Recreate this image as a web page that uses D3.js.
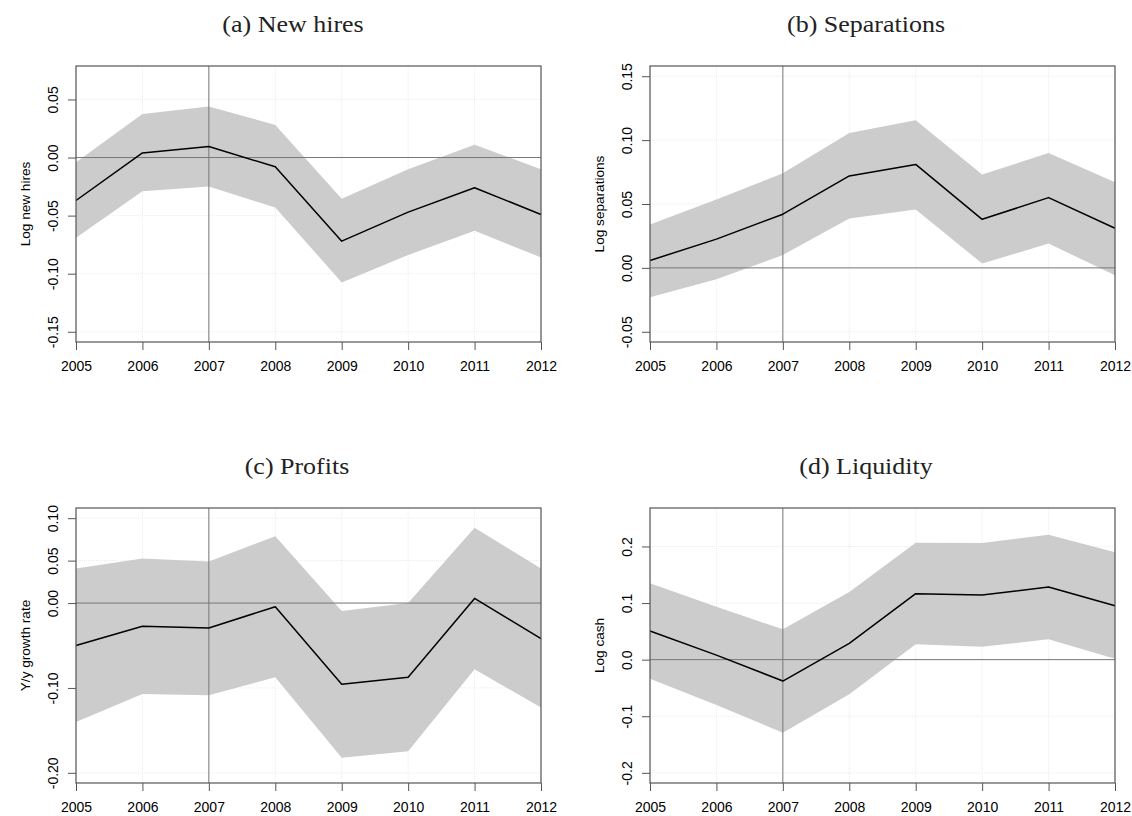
<!DOCTYPE html>
<html>
<head>
<meta charset="utf-8">
<script src="https://cdn.jsdelivr.net/npm/d3@7"></script>
<style>
  body { margin: 0; background: #fff; }
  svg text { font-family: "Liberation Sans", Arial, sans-serif; }
  svg text.title { font-family: "Liberation Serif", "Times New Roman", serif; }
</style>
</head>
<body>
<svg id="chart"></svg>
<script>
// years on the x axis
const years = [2005, 2006, 2007, 2008, 2009, 2010, 2011, 2012];

// (a) New hires
const hiresEst = [-0.037, 0.004, 0.0095, -0.008, -0.072, -0.047, -0.026, -0.049];
const hiresHi  = [-0.004, 0.0375, 0.044, 0.028, -0.0355, -0.010, 0.011, -0.010];
const hiresLo  = [-0.069, -0.029, -0.025, -0.043, -0.1075, -0.084, -0.063, -0.086];
const hiresTicks = [-0.15, -0.10, -0.05, 0.00, 0.05];

// (b) Separations
const sepEst = [0.0058, 0.0225, 0.042, 0.072, 0.081, 0.038, 0.055, 0.031];
const sepHi  = [0.034, 0.0535, 0.074, 0.1055, 0.1155, 0.073, 0.090, 0.067];
const sepLo  = [-0.023, -0.0088, 0.010, 0.0387, 0.0457, 0.0034, 0.019, -0.0057];
const sepTicks = [-0.05, 0.00, 0.05, 0.10, 0.15];

// (c) Profits
const profEst = [-0.050, -0.0274, -0.0294, -0.0043, -0.0957, -0.0875, 0.0055, -0.042];
const profHi  = [0.0408, 0.0526, 0.049, 0.0788, -0.0094, 0.0, 0.0886, 0.0408];
const profLo  = [-0.140, -0.107, -0.1086, -0.0874, -0.1823, -0.1745, -0.078, -0.123];
const profTicks = [-0.20, -0.10, 0.00, 0.05, 0.10];

// (d) Liquidity
const cashEst = [0.0505, 0.008, -0.0378, 0.0288, 0.1166, 0.1141, 0.1283, 0.0954];
const cashHi  = [0.1348, 0.0936, 0.0535, 0.1194, 0.2067, 0.2062, 0.2208, 0.190];
const cashLo  = [-0.0336, -0.080, -0.129, -0.0613, 0.027, 0.023, 0.0359, 0.0018];
const cashTicks = [-0.2, -0.1, 0.0, 0.1, 0.2];

const W = 1132, H = 816;
const svg = d3.select("#chart").attr("width", W).attr("height", H);

// plain hyphen minus, like R prints it
const locale = d3.formatLocale({decimal: ".", thousands: ",", grouping: [3], currency: ["", ""], minus: "-"});

// R-style axis range: limits widened by 4% on each side
function rRange(lo, hi) {
    const pad = (hi - lo) * 0.04;
    return [lo - pad, hi + pad];
}

const panels = [
    {title: "(a) New hires", titleX: 293, titleY: 32, ylab: "Log new hires",
     est: hiresEst, hi: hiresHi, lo: hiresLo, ticks: hiresTicks, fmt: locale.format(".2f"),
     ylim: [-0.15, 0.07], box: {left: 76, right: 541, top: 66, bottom: 342}},
    {title: "(b) Separations", titleX: 866, titleY: 32, ylab: "Log separations",
     est: sepEst, hi: sepHi, lo: sepLo, ticks: sepTicks, fmt: locale.format(".2f"),
     ylim: [-0.05, 0.15], box: {left: 650, right: 1115, top: 66, bottom: 342}},
    {title: "(c) Profits", titleX: 297, titleY: 474, ylab: "Y/y growth rate",
     est: profEst, hi: profHi, lo: profLo, ticks: profTicks, fmt: locale.format(".2f"),
     ylim: [-0.20, 0.10], box: {left: 76, right: 541, top: 508, bottom: 783}},
    {title: "(d) Liquidity", titleX: 866, titleY: 474, ylab: "Log cash",
     est: cashEst, hi: cashHi, lo: cashLo, ticks: cashTicks, fmt: locale.format(".1f"),
     ylim: [-0.2, 0.25], box: {left: 650, right: 1115, top: 508, bottom: 783}}
];

panels.forEach(p => drawPanel(p));

function drawPanel(p) {
    const b = p.box;
    const g = svg.append("g");

    const x = d3.scaleLinear().domain([years[0], years[years.length - 1]]).range([b.left, b.right]);
    const y = d3.scaleLinear().domain(rRange(p.ylim[0], p.ylim[1])).range([b.bottom, b.top]);

    // title (serif, stretched a little to mimic the wide LaTeX face)
    g.append("text")
        .attr("class", "title")
        .attr("transform", `translate(${p.titleX},${p.titleY}) scale(1.13,1)`)
        .attr("text-anchor", "middle")
        .attr("font-size", 23)
        .attr("fill", "#222")
        .text(p.title);

    // faint grid
    const grid = g.append("g")
        .attr("stroke", "#ececec")
        .attr("stroke-width", 1)
        .attr("stroke-dasharray", "1,1");
    grid.selectAll(".gx")
        .data(years)
        .join("line")
        .attr("x1", d => x(d)).attr("x2", d => x(d))
        .attr("y1", b.top).attr("y2", b.bottom);
    grid.selectAll(".gy")
        .data(p.ticks)
        .join("line")
        .attr("x1", b.left).attr("x2", b.right)
        .attr("y1", d => y(d)).attr("y2", d => y(d));

    // confidence band
    const rows = years.map((yr, i) => ({year: yr, est: p.est[i], hi: p.hi[i], lo: p.lo[i]}));
    const area = d3.area()
        .x(d => x(d.year))
        .y0(d => y(d.lo))
        .y1(d => y(d.hi));
    g.append("path")
        .datum(rows)
        .attr("fill", "#cccccc")
        .attr("d", area);

    // reference lines: zero and 2007
    g.append("line")
        .attr("x1", b.left).attr("x2", b.right)
        .attr("y1", y(0)).attr("y2", y(0))
        .attr("stroke", "#777")
        .attr("stroke-width", 1);
    g.append("line")
        .attr("x1", x(2007)).attr("x2", x(2007))
        .attr("y1", b.top).attr("y2", b.bottom)
        .attr("stroke", "#777")
        .attr("stroke-width", 1);

    // point estimates
    const line = d3.line()
        .x(d => x(d.year))
        .y(d => y(d.est));
    g.append("path")
        .datum(rows)
        .attr("fill", "none")
        .attr("stroke", "#000")
        .attr("stroke-width", 1.5)
        .attr("stroke-linejoin", "round")
        .attr("d", line);

    // box
    g.append("rect")
        .attr("x", b.left).attr("y", b.top)
        .attr("width", b.right - b.left)
        .attr("height", b.bottom - b.top)
        .attr("fill", "none")
        .attr("stroke", "#555")
        .attr("stroke-width", 1.2);

    // x axis
    const xAxis = g.append("g")
        .attr("transform", `translate(0,${b.bottom})`)
        .call(d3.axisBottom(x).tickValues(years).tickFormat(d3.format("d")).tickSize(8).tickSizeOuter(0));
    xAxis.select(".domain").remove();
    xAxis.selectAll(".tick line").attr("stroke", "#555");
    xAxis.selectAll(".tick text")
        .attr("font-size", 14)
        .attr("fill", "#000")
        .attr("y", 19)
        .attr("dy", "0.71em");

    // y axis with rotated labels
    const yAxis = g.append("g")
        .attr("transform", `translate(${b.left},0)`)
        .call(d3.axisLeft(y).tickValues(p.ticks).tickFormat(p.fmt).tickSize(8).tickSizeOuter(0));
    yAxis.select(".domain").remove();
    yAxis.selectAll(".tick line").attr("stroke", "#555");
    yAxis.selectAll(".tick text")
        .attr("font-size", 14)
        .attr("fill", "#000")
        .attr("x", null).attr("dy", null)
        .attr("text-anchor", "middle")
        .attr("transform", "translate(-18,0) rotate(-90)");

    // y label
    g.append("text")
        .attr("transform", `translate(${b.left - 46},${(b.top + b.bottom) / 2}) rotate(-90)`)
        .attr("text-anchor", "middle")
        .attr("font-size", 13.6)
        .attr("fill", "#000")
        .text(p.ylab);
}
</script>
</body>
</html>
